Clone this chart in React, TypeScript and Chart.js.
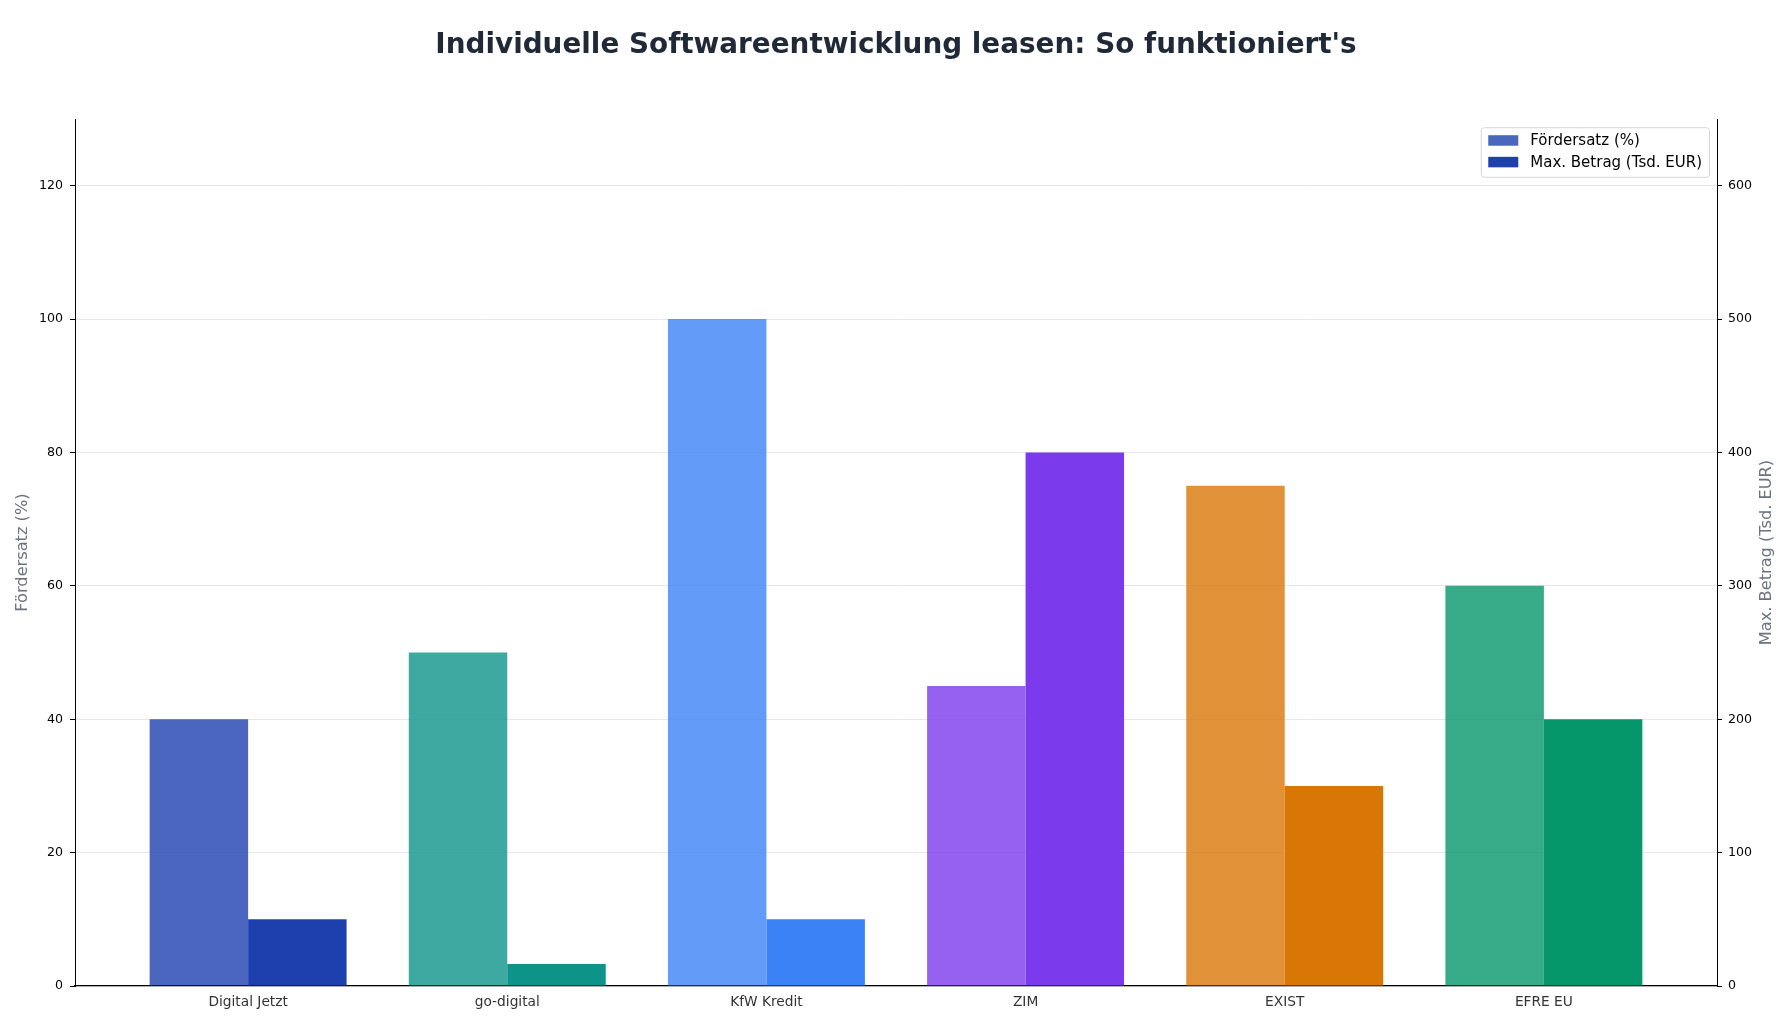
import React, { useEffect, useRef } from "react";
import { Chart, registerables } from "chart.js";

Chart.register(...registerables);

const categories = ["Digital Jetzt", "go-digital", "KfW Kredit", "ZIM", "EXIST", "EFRE EU"];
const foerdersatz = [40, 50, 100, 45, 75, 60];
const maxBetrag = [50, 16.5, 50, 400, 150, 200];
const baseColors = ["#1e40af", "#0d9488", "#3b82f6", "#7c3aed", "#d97706", "#059669"];
const leftTicksMax = 130;
const rightTicksMax = 650;

const TITLE = "Individuelle Softwareentwicklung leasen: So funktioniert's";
const LEFT_TITLE = "Fördersatz (%)";
const RIGHT_TITLE = "Max. Betrag (Tsd. EUR)";
const FONT = "'DejaVu Sans', 'Liberation Sans', sans-serif";

function withAlpha(hex: string, a: number) {
  const n = parseInt(hex.slice(1), 16);
  return `rgba(${(n >> 16) & 255},${(n >> 8) & 255},${n & 255},${a})`;
}

const extras = {
  id: "extras",
  afterDraw(chart: any) {
    const ctx = chart.ctx;
    const area = chart.chartArea;
    // right axis title, reading bottom-to-top
    ctx.save();
    ctx.translate(chart.width - 25, (area.top + area.bottom) / 2);
    ctx.rotate(-Math.PI / 2);
    ctx.font = `16.2px ${FONT}`;
    ctx.fillStyle = "#6b7280";
    ctx.textAlign = "center";
    ctx.textBaseline = "middle";
    ctx.fillText(RIGHT_TITLE, 0, 0);
    ctx.restore();

    // legend box
    const items = chart.data.datasets.map((d: any) => ({
      label: d.label,
      color: Array.isArray(d.backgroundColor) ? d.backgroundColor[0] : d.backgroundColor,
    }));
    ctx.save();
    ctx.font = `15px ${FONT}`;
    const textW = Math.max(...items.map((i: any) => ctx.measureText(i.label).width));
    const padL = 7, patchW = 30, gap = 12, padR = 7.5;
    const w = padL + patchW + gap + textW + padR;
    const h = 49.5;
    const x = area.right - 7.5 - w;
    const y = area.top + 8.7;
    const r = 3;
    ctx.beginPath();
    ctx.moveTo(x + r, y);
    ctx.lineTo(x + w - r, y);
    ctx.quadraticCurveTo(x + w, y, x + w, y + r);
    ctx.lineTo(x + w, y + h - r);
    ctx.quadraticCurveTo(x + w, y + h, x + w - r, y + h);
    ctx.lineTo(x + r, y + h);
    ctx.quadraticCurveTo(x, y + h, x, y + h - r);
    ctx.lineTo(x, y + r);
    ctx.quadraticCurveTo(x, y, x + r, y);
    ctx.closePath();
    ctx.fillStyle = "rgba(255,255,255,0.8)";
    ctx.fill();
    ctx.strokeStyle = "#d6d6d6";
    ctx.lineWidth = 1;
    ctx.stroke();
    items.forEach((it: any, i: number) => {
      const cy = y + 13 + i * 21.6;
      ctx.fillStyle = it.color;
      ctx.fillRect(x + padL, cy - 5.5, patchW, 10.5);
      ctx.fillStyle = "#000000";
      ctx.textBaseline = "middle";
      ctx.textAlign = "left";
      ctx.fillText(it.label, x + padL + patchW + gap, cy + 0.5);
    });
    ctx.restore();
  },
};

export default function App() {
  const ref = useRef<HTMLCanvasElement>(null);
  useEffect(() => {
    if (!ref.current) return;
    const chart = new Chart(ref.current, {
      type: "bar",
      data: {
        datasets: [
          {
            label: LEFT_TITLE,
            data: foerdersatz.map((v, i) => ({ x: i, y: v })),
            backgroundColor: baseColors.map((c) => withAlpha(c, 0.8)),
            borderWidth: 0,
            yAxisID: "y",
            categoryPercentage: 0.76,
            barPercentage: 1,
          },
          {
            label: RIGHT_TITLE,
            data: maxBetrag.map((v, i) => ({ x: i, y: v })),
            backgroundColor: baseColors,
            borderWidth: 0,
            yAxisID: "y1",
            categoryPercentage: 0.76,
            barPercentage: 1,
          },
        ],
      },
      options: {
        responsive: false,
        animation: false,
        devicePixelRatio: 1,
        layout: { padding: 0 },
        plugins: {
          legend: { display: false },
          tooltip: { enabled: false },
          title: {
            display: true,
            text: TITLE,
            color: "#1f2937",
            font: { family: FONT, size: 27.85, weight: "bold", lineHeight: 1.2 },
            padding: { top: 28.6, bottom: 57.0 },
          },
        },
        scales: {
          x: {
            type: "linear",
            min: -0.668,
            max: 5.668,
            offset: false,
            grid: { display: false, drawTicks: false },
            border: { display: true, color: "#000000", width: 1.2 },
            ticks: {
              stepSize: 1,
              includeBounds: false,
              autoSkip: false,
              maxRotation: 0,
              padding: 8,
              color: "#333333",
              font: { family: FONT, size: 13.75 },
              callback: (v: any) => (Number.isInteger(v) ? categories[v] ?? "" : ""),
            },
            afterFit: (s: any) => {
              s.height = 38;
            },
          },
          y: {
            type: "linear",
            position: "left",
            min: 0,
            max: leftTicksMax,
            grid: { color: "#e5e7eb", lineWidth: 1, tickColor: "#000000", tickLength: 5 },
            border: { display: true, color: "#000000", width: 1 },
            ticks: {
              stepSize: 20,
              includeBounds: false,
              padding: 7,
              color: "#000000",
              font: { family: FONT, size: 12.6 },
            },
            title: {
              display: true,
              text: LEFT_TITLE,
              color: "#6b7280",
              font: { family: FONT, size: 16.2, lineHeight: 1.2 },
              padding: { top: 12.8, bottom: 0 },
            },
            afterFit: (s: any) => {
              s.width = 75;
            },
          },
          y1: {
            type: "linear",
            position: "right",
            min: 0,
            max: rightTicksMax,
            grid: { drawOnChartArea: false, tickColor: "#000000", tickLength: 5 },
            border: { display: true, color: "#000000", width: 1 },
            ticks: {
              stepSize: 100,
              includeBounds: false,
              padding: 6,
              color: "#000000",
              font: { family: FONT, size: 12.6 },
            },
            title: { display: false },
            afterFit: (s: any) => {
              s.width = 75;
            },
          },
        },
      } as any,
      plugins: [extras],
    });
    return () => chart.destroy();
  }, []);
  return (
    <div style={{ position: "absolute", left: 0, top: 0, width: 1792, height: 1024, background: "#ffffff" }}>
      <canvas ref={ref} width={1792} height={1024} style={{ width: 1792, height: 1024, display: "block" }} />
    </div>
  );
}
